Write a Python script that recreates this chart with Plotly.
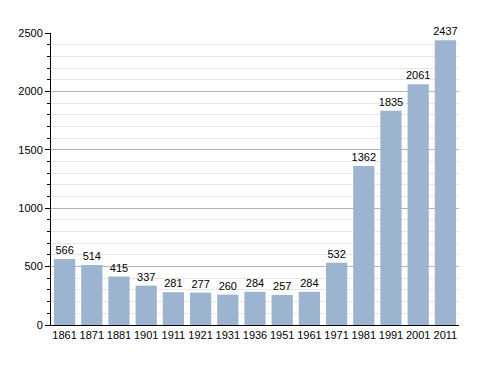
import plotly.graph_objects as go

years = ["1861", "1871", "1881", "1901", "1911", "1921", "1931", "1936",
         "1951", "1961", "1971", "1981", "1991", "2001", "2011"]
population = [566, 514, 415, 337, 281, 277, 260, 284, 257, 284, 532, 1362, 1835, 2061, 2437]
y_ticks = [0, 500, 1000, 1500, 2000, 2500]

fig = go.Figure(go.Bar(
    x=years, y=population,
    marker=dict(color="#9cb4d0", line=dict(width=0)),
    text=[str(v) for v in population], textposition="outside",
    constraintext="none",
    textfont=dict(family="Liberation Sans, Arial", size=11, color="#000"),
    cliponaxis=False,
))
fig.update_layout(
    width=488, height=373,
    margin=dict(l=43, r=37, t=25, b=56, autoexpand=False),
    paper_bgcolor="white", plot_bgcolor="white",
    bargap=0.22, showlegend=False,
    font=dict(family="Liberation Sans, Arial", size=11, color="#000"),
    xaxis=dict(type="category", showline=True, linecolor="#000", linewidth=1,
               ticks="", showgrid=False, tickfont=dict(size=11), automargin=False),
    yaxis=dict(range=[0, 2500], tickvals=y_ticks, showline=True, linecolor="#000",
               linewidth=1, ticks="outside", ticklen=5, tickcolor="#000",
               gridcolor="#b4b4b4", gridwidth=1, zeroline=False, automargin=False,
               minor=dict(dtick=100, ticks="outside", ticklen=3, tickcolor="#000",
                          showgrid=True, gridcolor="#e6e6e6", gridwidth=1),
               tickfont=dict(size=11)),
)
fig.write_html("out.html")
